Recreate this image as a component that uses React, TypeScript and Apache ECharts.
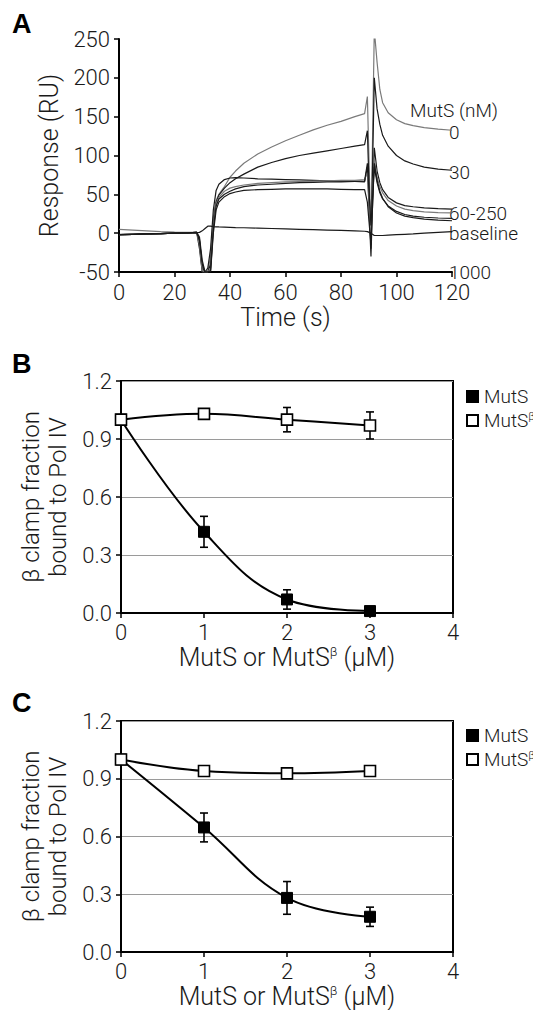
import React, { useEffect, useRef } from "react";
import * as echarts from "echarts";

const FONT = "Roboto";
const FW = 300;

// Panel A: SPR sensorgram traces
const TIME = [0, 5, 10, 15, 20, 25, 28, 29, 30, 31, 32, 33, 34, 35, 36, 38, 40, 42, 45, 50, 55, 60, 65, 70, 75, 80, 85, 88.5, 89.5, 90.8, 92, 93, 94, 95, 97, 100, 103, 106, 110, 115, 120];
const TRACE_0 = [5, 4, 3, 2, 1.5, 1.2, 1, -12, -50, -50, -50, -30, 20, 42, 50, 60, 72, 80, 90, 102, 111, 119, 126, 133, 139, 144, 150, 154, 176, -5, 262, 220, 185, 168, 155, 146, 141, 138.5, 136, 134, 132.5];
const TRACE_30 = [-2, -1.5, -1, -0.5, 0, 0.5, 1, -8, -45, -50, -50, -40, 15, 40, 49, 58, 65, 70, 76, 85, 91, 96, 100, 103, 106, 109, 112, 114, 132, -20, 200, 160, 140, 126, 112, 100, 93, 89, 85, 82.5, 81];
const TRACE_G1 = [-2, -1.5, -1, -0.5, 0, 0.5, 1, -20, -50, -50, -45, -20, 30, 55, 63, 69, 71, 71.5, 71, 70, 69.5, 69, 68.5, 68, 67.5, 67, 66.5, 66, 85, -30, 110, 80, 65, 56, 46, 39, 35.5, 34, 32.5, 31.5, 31];
const TRACE_G2 = [-2, -1.5, -1, -0.5, 0, 0.5, 1, -15, -48, -50, -50, -45, 10, 38, 46, 54, 58, 60, 62, 64, 65, 66, 66.5, 67, 67.5, 68, 68, 69, 78, 0, 95, 72, 60, 52, 42, 35, 31, 29, 27.5, 26.5, 26];
const TRACE_G3 = [-2, -1.5, -1, -0.5, 0, 0.5, 1, -10, -40, -50, -50, -48, 5, 35, 44, 50, 54, 57, 60, 62, 63, 64, 65, 65.5, 66, 66, 66.5, 67, 90, 10, 85, 65, 52, 44, 35, 28, 24, 22, 20.5, 19.5, 19];
const TRACE_G4 = [-2, -1.5, -1, -0.5, 0, 0.5, 1, -5, -35, -50, -50, -50, 0, 30, 40, 47, 51, 53, 55, 56, 56.5, 57, 57, 57, 57, 56.5, 56, 56, 40, -15, 90, 68, 54, 45, 34, 26, 22, 20, 18, 16.8, 16];
const TRACE_BASE = [-2, -1.5, -1, -0.5, 0, 0.3, 0.5, 1, 3, 6, 9, 9, 8.5, 8.2, 8, 7.8, 7.5, 7.2, 7, 6.5, 6, 5.5, 5, 4.5, 4, 3.5, 3, 2.5, 2, 0, -3, -3, -3, -3, -2.5, -2, -1.5, -1, 0, 1, 2];

const A_TRACES = [
  { vals: TRACE_0, color: "#7a7a7a" },
  { vals: TRACE_30, color: "#1a1a1a" },
  { vals: TRACE_G1, color: "#1a1a1a" },
  { vals: TRACE_G2, color: "#7a7a7a" },
  { vals: TRACE_G3, color: "#1a1a1a" },
  { vals: TRACE_G4, color: "#1a1a1a" },
  { vals: TRACE_BASE, color: "#1a1a1a" },
];

const A_LABELS = ["MutS (nM)", "0", "30", "60-250", "baseline", "1000"];

// Panels B and C
const CONC = [0, 1, 2, 3];
const B_MUTS = [1.0, 0.42, 0.07, 0.01];
const B_MUTS_ERR = [0, 0.08, 0.05, 0.02];
const B_MUTSB = [1.0, 1.03, 1.0, 0.97];
const B_MUTSB_ERR = [0, 0.01, 0.063, 0.07];
const C_MUTS = [1.0, 0.647, 0.281, 0.183];
const C_MUTS_ERR = [0, 0.075, 0.085, 0.05];
const C_MUTSB = [1.0, 0.94, 0.928, 0.94];
const C_MUTSB_ERR = [0, 0.02, 0.012, 0.012];

const txt = (size: number) => ({ fontSize: size, fontFamily: FONT, fontWeight: FW, color: "#1a1a1a" });

const supRich = {
  a: { fontSize: 25, fontFamily: FONT, fontWeight: FW, color: "#1a1a1a" },
  s: { fontSize: 13, fontFamily: FONT, fontWeight: FW, color: "#1a1a1a", verticalAlign: "top", lineHeight: 22 },
};
const legRich = {
  a: { fontSize: 19, fontFamily: FONT, fontWeight: FW, color: "#1a1a1a" },
  s: { fontSize: 11, fontFamily: FONT, fontWeight: FW, color: "#1a1a1a", verticalAlign: "top", lineHeight: 17 },
};

function errorBars(xi: number, vals: number[], errs: number[]) {
  return {
    type: "custom",
    xAxisIndex: xi,
    yAxisIndex: xi,
    silent: true,
    z: 2,
    data: CONC.map((x, i) => [x, vals[i], errs[i]]),
    encode: { x: 0, y: 1 },
    renderItem: (params: any, api: any) => {
      const x = api.value(0);
      const y = api.value(1);
      const e = api.value(2);
      if (!e) return { type: "group", children: [] };
      const top = api.coord([x, y + e]);
      const bot = api.coord([x, y - e]);
      const w = 4;
      const st = { stroke: "#000", lineWidth: 1.6 };
      return {
        type: "group",
        children: [
          { type: "line", shape: { x1: top[0], y1: top[1], x2: bot[0], y2: bot[1] }, style: st },
          { type: "line", shape: { x1: top[0] - w, y1: top[1], x2: top[0] + w, y2: top[1] }, style: st },
          { type: "line", shape: { x1: bot[0] - w, y1: bot[1], x2: bot[0] + w, y2: bot[1] }, style: st },
        ],
      };
    },
  };
}

function curve(xi: number, name: string, vals: number[], filled: boolean) {
  return {
    type: "line",
    name,
    xAxisIndex: xi,
    yAxisIndex: xi,
    data: CONC.map((x, i) => [x, vals[i]]),
    smooth: 0.4,
    symbol: "rect",
    symbolSize: 11,
    z: filled ? 3 : 4,
    lineStyle: { color: "#000", width: 2 },
    itemStyle: filled
      ? { color: "#000", borderColor: "#000", borderWidth: 1 }
      : { color: "#fff", borderColor: "#000", borderWidth: 1.6 },
  };
}

function bcXAxis(gi: number) {
  return {
    gridIndex: gi,
    type: "value",
    min: 0,
    max: 4,
    interval: 1,
    axisLine: { show: true, onZero: false, lineStyle: { color: "#000", width: 2 } },
    axisTick: { show: true, length: 5, lineStyle: { color: "#000", width: 1.5 } },
    axisLabel: { ...txt(22), margin: 8 },
    splitLine: { show: false },
    name: "{a|MutS or MutS}{s|β}{a| (μM)}",
    nameLocation: "middle",
    nameGap: 32,
    nameTextStyle: { rich: supRich },
  };
}

function bcYAxis(gi: number) {
  return {
    gridIndex: gi,
    type: "value",
    min: 0,
    max: 1.2,
    interval: 0.3,
    axisLine: { show: true, onZero: false, lineStyle: { color: "#000", width: 2 } },
    axisTick: { show: true, length: 5, lineStyle: { color: "#000", width: 1.5 } },
    axisLabel: { ...txt(22), margin: 9, formatter: (v: number) => v.toFixed(1) },
    splitLine: { show: true, lineStyle: { color: "#9a9a9a", width: 1 } },
    name: "β clamp fraction\nbound to Pol IV",
    nameLocation: "middle",
    nameGap: 45,
    nameTextStyle: { ...txt(24), lineHeight: 27 },
  };
}

function legend(top: number) {
  return {
    data: ["MutS", "MutSβ"],
    orient: "vertical",
    left: 466,
    top,
    padding: 0,
    icon: "rect",
    itemWidth: 11,
    itemHeight: 11,
    itemGap: 5,
    selectedMode: false,
    formatter: (n: string) => (n === "MutSβ" ? "{a|MutS}{s|β}" : "{a|MutS}"),
    textStyle: { rich: legRich, padding: [0, 0, 0, 1] },
  };
}

export default function App() {
  const ref = useRef<HTMLDivElement>(null);
  useEffect(() => {
    if (!ref.current) return;
    const chart = echarts.init(ref.current, null, { renderer: "svg" });
    const labelY = [110, 132, 172, 213, 233, 272];
    const graphic: any[] = [
      { type: "text", x: 12, y: 24, style: { text: "A", fontSize: 27, fontWeight: "bold", fontFamily: "Liberation Sans", fill: "#000", verticalAlign: "middle" } },
      { type: "text", x: 12, y: 364, style: { text: "B", fontSize: 27, fontWeight: "bold", fontFamily: "Liberation Sans", fill: "#000", verticalAlign: "middle" } },
      { type: "text", x: 12, y: 703, style: { text: "C", fontSize: 27, fontWeight: "bold", fontFamily: "Liberation Sans", fill: "#000", verticalAlign: "middle" } },
      ...A_LABELS.map((t, i) => ({
        type: "text",
        x: i === 0 ? 410 : 449,
        y: labelY[i],
        style: { text: t, fontSize: 19, fontFamily: FONT, fontWeight: FW, fill: "#1a1a1a", verticalAlign: "middle" },
      })),
    ];
    const series: any[] = [
      ...A_TRACES.map((tr) => ({
        type: "line",
        xAxisIndex: 0,
        yAxisIndex: 0,
        data: TIME.map((t, i) => [t, tr.vals[i]]),
        showSymbol: false,
        symbol: "none",
        silent: true,
        clip: true,
        lineStyle: { color: tr.color, width: 1.2 },
      })),
      errorBars(1, B_MUTS, B_MUTS_ERR),
      errorBars(1, B_MUTSB, B_MUTSB_ERR),
      curve(1, "MutS", B_MUTS, true),
      curve(1, "MutSβ", B_MUTSB, false),
      errorBars(2, C_MUTS, C_MUTS_ERR),
      errorBars(2, C_MUTSB, C_MUTSB_ERR),
      curve(2, "MutS", C_MUTS, true),
      curve(2, "MutSβ", C_MUTSB, false),
    ];
    chart.setOption({
      animation: false,
      backgroundColor: "#fff",
      grid: [
        { left: 119, top: 39, width: 333, height: 233 },
        { left: 121, top: 381, width: 332, height: 232, show: true, borderColor: "#000", borderWidth: 2, backgroundColor: "transparent" },
        { left: 121, top: 721, width: 332, height: 231, show: true, borderColor: "#000", borderWidth: 2, backgroundColor: "transparent" },
      ],
      xAxis: [
        {
          gridIndex: 0,
          type: "value",
          min: 0,
          max: 120,
          interval: 20,
          axisLine: { show: true, onZero: false, lineStyle: { color: "#000", width: 2 } },
          axisTick: { show: true, length: 5, lineStyle: { color: "#000", width: 1.5 } },
          axisLabel: { ...txt(22), margin: 9 },
          splitLine: { show: false },
          name: "Time (s)",
          nameLocation: "middle",
          nameGap: 33,
          nameTextStyle: txt(25),
        },
        bcXAxis(1),
        bcXAxis(2),
      ],
      yAxis: [
        {
          gridIndex: 0,
          type: "value",
          min: -50,
          max: 250,
          interval: 50,
          axisLine: { show: true, onZero: false, lineStyle: { color: "#000", width: 2 } },
          axisTick: { show: true, length: 5, lineStyle: { color: "#000", width: 1.5 } },
          axisLabel: { ...txt(22), margin: 9 },
          splitLine: { show: false },
          name: "Response (RU)",
          nameLocation: "middle",
          nameGap: 56,
          nameTextStyle: txt(25),
        },
        bcYAxis(1),
        bcYAxis(2),
      ],
      legend: [legend(387), legend(726)],
      graphic,
      series,
    });
    return () => chart.dispose();
  }, []);
  return <div ref={ref} style={{ position: "absolute", left: 0, top: 0, width: 533, height: 1010 }} />;
}
